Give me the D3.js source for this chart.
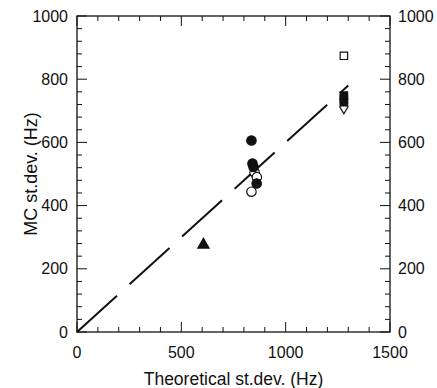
<!DOCTYPE html>
<html>
<head>
<meta charset="utf-8">
<script src="https://cdn.jsdelivr.net/npm/d3@7"></script>
<style>
  body { margin: 0; background: #fff; }
  svg text { font-family: "Liberation Sans", Arial, sans-serif; fill: #111; }
</style>
</head>
<body>
<svg id="chart" width="437" height="388"></svg>
<script>
// values
const xTicks = [0, 500, 1000, 1500];
const yTicks = [0, 200, 400, 600, 800, 1000];
const filledCircles = [[836, 606], [841, 533], [846, 522], [861, 470]];
const openCircles = [[851, 505], [862, 490], [836, 444]];
const filledTriangles = [[606, 276]];
const openSquares = [[1279, 874]];
const filledSquares = [[1279, 748], [1279, 737], [1279, 727]];
const openDiamonds = [[1279, 713]];
const refLine = [[0, 0], [1300, 780]];

const margin = { top: 16, right: 47, bottom: 56, left: 77 };
const W = 437, H = 388;
const width = W - margin.left - margin.right;
const height = H - margin.top - margin.bottom;

const svg = d3.select("#chart")
  .append("g")
  .attr("transform", `translate(${margin.left}, ${margin.top})`);

const x = d3.scaleLinear().domain([0, 1500]).range([0, width]);
const y = d3.scaleLinear().domain([0, 1000]).range([height, 0]);

const ink = "#111";

// minor + major ticks, pointing inward, on all 4 sides
const xMinor = d3.range(0, 1501, 100);
const yMinor = d3.range(0, 1001, 40);

function drawTicks(g, vals, scale, isMajor, side) {
  g.selectAll("line")
    .data(vals)
    .join("line")
    .attr("stroke", ink)
    .attr("stroke-width", 1)
    .each(function (d) {
      const len = isMajor(d) ? 10 : 5;
      const s = d3.select(this);
      if (side == "bottom") s.attr("x1", scale(d)).attr("x2", scale(d)).attr("y1", height).attr("y2", height - len);
      if (side == "top") s.attr("x1", scale(d)).attr("x2", scale(d)).attr("y1", 0).attr("y2", len);
      if (side == "left") s.attr("y1", scale(d)).attr("y2", scale(d)).attr("x1", 0).attr("x2", len);
      if (side == "right") s.attr("y1", scale(d)).attr("y2", scale(d)).attr("x1", width).attr("x2", width - len);
    });
}

const xMajor = (d) => d % 500 == 0;
const yMajor = (d) => d % 200 == 0;
drawTicks(svg.append("g"), xMinor, x, xMajor, "bottom");
drawTicks(svg.append("g"), xMinor, x, xMajor, "top");
drawTicks(svg.append("g"), yMinor, y, yMajor, "left");
drawTicks(svg.append("g"), yMinor, y, yMajor, "right");

// frame
svg.append("rect")
  .attr("width", width)
  .attr("height", height)
  .attr("fill", "none")
  .attr("stroke", ink)
  .attr("stroke-width", 1.3);

// tick labels
svg.append("g")
  .selectAll("text")
  .data(xTicks)
  .join("text")
  .attr("x", (d) => x(d))
  .attr("y", height + 26)
  .attr("text-anchor", "middle")
  .style("font-size", "16px")
  .text((d) => d);

svg.append("g")
  .selectAll("text")
  .data(yTicks)
  .join("text")
  .attr("x", -9)
  .attr("y", (d) => y(d) + 5.5)
  .attr("text-anchor", "end")
  .style("font-size", "16px")
  .text((d) => d);

svg.append("g")
  .selectAll("text")
  .data(yTicks)
  .join("text")
  .attr("x", width + 8)
  .attr("y", (d) => y(d) + 5.5)
  .attr("text-anchor", "start")
  .style("font-size", "16px")
  .text((d) => d);

// axis titles
svg.append("text")
  .attr("x", width / 2)
  .attr("y", height + 53)
  .attr("text-anchor", "middle")
  .style("font-size", "17.5px")
  .text("Theoretical st.dev. (Hz)");

svg.append("text")
  .attr("transform", `translate(-40, ${height / 2}) rotate(-90)`)
  .attr("text-anchor", "middle")
  .style("font-size", "18px")
  .text("MC st.dev. (Hz)");

// dashed reference line
svg.append("path")
  .datum(refLine)
  .attr("fill", "none")
  .attr("stroke", ink)
  .attr("stroke-width", 2)
  .attr("stroke-dasharray", "54,17")
  .attr("d", d3.line().x((d) => x(d[0])).y((d) => y(d[1])));

// markers
function addSymbols(data, type, size, filled) {
  svg.append("g")
    .selectAll("path")
    .data(data)
    .join("path")
    .attr("transform", (d) => `translate(${x(d[0])}, ${y(d[1])})`)
    .attr("d", d3.symbol(type, size))
    .attr("fill", filled ? ink : "#fff")
    .attr("stroke", ink)
    .attr("stroke-width", 1.2);
}

addSymbols(openCircles, d3.symbolCircle, 70, false);
addSymbols(filledCircles, d3.symbolCircle, 70, true);
addSymbols(filledTriangles, d3.symbolTriangle, 55, true);
addSymbols(openDiamonds, d3.symbolDiamond, 60, false);
addSymbols(filledSquares, d3.symbolSquare, 55, true);
addSymbols(openSquares, d3.symbolSquare, 55, false);
</script>
</body>
</html>
